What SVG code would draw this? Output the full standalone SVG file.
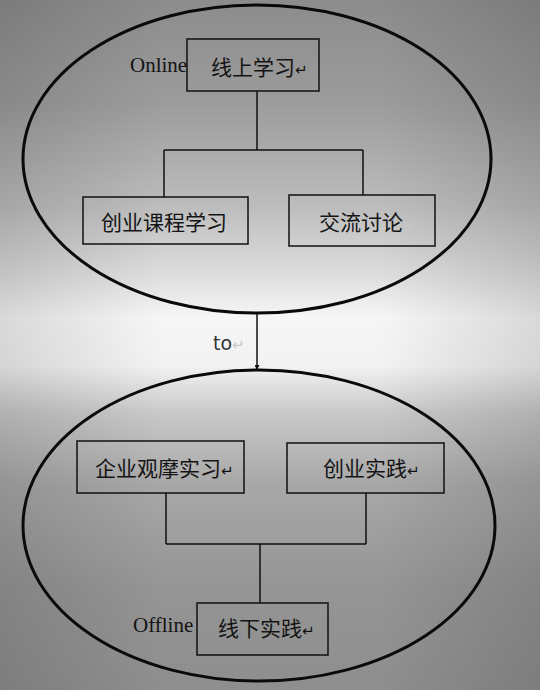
<svg xmlns="http://www.w3.org/2000/svg" width="540" height="690" viewBox="0 0 540 690">
  <defs>
    <linearGradient id="bg" x1="0" y1="0" x2="0" y2="1">
      <stop offset="0" stop-color="#8c8c8c"/>
      <stop offset="0.15" stop-color="#9c9c9c"/>
      <stop offset="0.3" stop-color="#bdbdbd"/>
      <stop offset="0.4" stop-color="#dedede"/>
      <stop offset="0.46" stop-color="#f6f6f6"/>
      <stop offset="0.53" stop-color="#f2f2f2"/>
      <stop offset="0.6" stop-color="#c8c8c8"/>
      <stop offset="0.7" stop-color="#a8a8a8"/>
      <stop offset="0.85" stop-color="#959595"/>
      <stop offset="1" stop-color="#8e8e8e"/>
    </linearGradient>
    <linearGradient id="side" x1="0" y1="0" x2="1" y2="0">
      <stop offset="0" stop-color="#000" stop-opacity="0.12"/>
      <stop offset="0.3" stop-color="#000" stop-opacity="0"/>
      <stop offset="0.7" stop-color="#000" stop-opacity="0"/>
      <stop offset="1" stop-color="#000" stop-opacity="0.12"/>
    </linearGradient>
    <marker id="arrow" viewBox="0 0 10 10" refX="10" refY="5" markerWidth="5" markerHeight="5" markerUnits="userSpaceOnUse" orient="auto">
      <path d="M0,0 L10,5 L0,10 z" fill="#111"/>
    </marker>
    <style>
      .ell { fill: none; stroke: #0a0a0a; stroke-width: 3; }
      .box { fill: none; stroke: #111; stroke-width: 1.5; }
      .conn { fill: none; stroke: #111; stroke-width: 1.5; }
      .cjk { font-family: "Noto Sans CJK SC", "DejaVu Sans", sans-serif; font-size: 21px; fill: #141414; }
      .lat { font-family: "Liberation Serif", "DejaVu Serif", serif; font-size: 21px; fill: #141414; }
      .to { font-family: "DejaVu Sans", "Liberation Sans", sans-serif; font-size: 19px; fill: #333; }
      .ret { font-family: "DejaVu Sans", sans-serif; font-size: 15px; fill: #111; }
      .retg { font-family: "DejaVu Sans", sans-serif; font-size: 15px; fill: #c8c8c8; }
    </style>
  </defs>

  <rect x="0" y="0" width="540" height="690" fill="url(#bg)"/>
  <rect x="0" y="0" width="540" height="690" fill="url(#side)"/>

  <g id="online-ellipse">
    <ellipse class="ell" cx="257" cy="159" rx="234" ry="154"/>
    <text class="lat" x="130" y="72">Online</text>
  </g>
  <g id="offline-ellipse">
    <ellipse class="ell" cx="259" cy="525.5" rx="236" ry="155.5"/>
    <text class="lat" x="133" y="632">Offline</text>
  </g>

  <g id="connectors">
    <path class="conn" d="M257,91 V150 M164,150 H363 M164,150 V197 M363,150 V195"/>
    <path class="conn" d="M257,314 V370" marker-end="url(#arrow)"/>
    <path class="conn" d="M166,493 V544 M366,493 V544 M166,544 H366 M260,544 V603"/>
    <text class="to" x="213" y="350">to<tspan class="retg">↵</tspan></text>
  </g>

  <g id="node-online-study">
    <rect class="box" x="187" y="39" width="132" height="52"/>
    <text class="cjk" x="211" y="75">线上学习<tspan class="ret">↵</tspan></text>
  </g>
  <g id="node-course">
    <rect class="box" x="83" y="197" width="165" height="47"/>
    <text class="cjk" x="101" y="230">创业课程学习<tspan class="retg">↵</tspan></text>
  </g>
  <g id="node-discussion">
    <rect class="box" x="289" y="195" width="146" height="51"/>
    <text class="cjk" x="319" y="230">交流讨论<tspan class="retg">↵</tspan></text>
  </g>
  <g id="node-internship">
    <rect class="box" x="77" y="441" width="167" height="52"/>
    <text class="cjk" x="95" y="476">企业观摩实习<tspan class="ret">↵</tspan></text>
  </g>
  <g id="node-practice">
    <rect class="box" x="287" y="443" width="157" height="50"/>
    <text class="cjk" x="323" y="476">创业实践<tspan class="ret">↵</tspan></text>
  </g>
  <g id="node-offline-practice">
    <rect class="box" x="197" y="603" width="131" height="52"/>
    <text class="cjk" x="218" y="636">线下实践<tspan class="ret">↵</tspan></text>
  </g>
</svg>
